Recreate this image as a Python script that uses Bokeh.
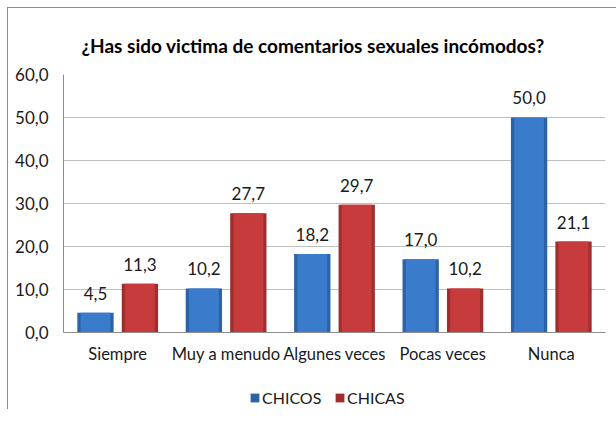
from bokeh.plotting import figure
from bokeh.models import (ColumnDataSource, FactorRange, Range1d, FixedTicker,
                          CustomJSTickFormatter, LabelSet, Legend, LegendItem)
from bokeh.core.properties import value
from bokeh.transform import dodge
from bokeh.embed import file_html
from bokeh.resources import INLINE

categories = ["Siempre", "Muy a menudo", "Algunes veces", "Pocas veces", "Nunca"]
chicos = [4.5, 10.2, 18.2, 17.0, 50.0]
chicas = [11.3, 27.7, 29.7, 10.2, 21.1]
y_ticks = [0, 10, 20, 30, 40, 50, 60]
series_names = ["CHICOS", "CHICAS"]
title_text = "¿Has sido victima de comentarios sexuales incómodos?"

FONT = "Lato"
TEXT_COLOR = "#1a1a1a"


def fmt(v):
    return f"{v:.1f}".replace(".", ",")


src = ColumnDataSource(dict(
    cat=categories,
    chicos=chicos,
    chicas=chicas,
    chicos_lbl=[fmt(v) for v in chicos],
    chicas_lbl=[fmt(v) for v in chicas],
))

# frame extends below 0 to hold the legend; value axis stays bounded to 0..60
p = figure(
    frame_width=542, frame_height=335,
    x_range=FactorRange(*categories),
    y_range=Range1d(-18, 60),
    output_backend="svg", toolbar_location=None,
    min_border_left=55, min_border_right=11,
    min_border_top=66, min_border_bottom=0,
)
p.margin = (7, 0, 0, 7)
p.styles = {"border-top": "1px solid #8c8c8c", "border-left": "1px solid #8c8c8c"}

p.title.text = title_text
p.title.text_font = FONT
p.title.text_font_style = "bold"
p.title.text_font_size = "19px"
p.title.text_color = "#000000"
p.title.align = "left"
p.title.offset = 18
p.title.standoff = 36

OFF = 0.205
W = 0.335
blue_dark, blue_main = "#2c62a6", "#3b7bcb"
red_dark, red_main = "#a12e2f", "#c73b3c"

r_boys = p.vbar(x=dodge("cat", -OFF, range=p.x_range), top="chicos", width=W,
                source=src, fill_color=blue_dark, line_color=None)
p.vbar(x=dodge("cat", -OFF, range=p.x_range), top="chicos", width=W * 0.82,
       source=src, fill_color=blue_main, line_color=None)
r_girls = p.vbar(x=dodge("cat", OFF, range=p.x_range), top="chicas", width=W,
                 source=src, fill_color=red_dark, line_color=None)
p.vbar(x=dodge("cat", OFF, range=p.x_range), top="chicas", width=W * 0.82,
       source=src, fill_color=red_main, line_color=None)

for col, off in (("chicos", -OFF), ("chicas", OFF)):
    p.add_layout(LabelSet(
        x=dodge("cat", off, range=p.x_range), y=col, text=col + "_lbl",
        source=src, text_align="center", text_baseline="alphabetic",
        y_offset=13, text_font=value(FONT), text_font_size=value("17px"),
        text_color=TEXT_COLOR))

# axes
p.yaxis.ticker = FixedTicker(ticks=y_ticks)
p.yaxis.bounds = (0, 60)
p.yaxis.formatter = CustomJSTickFormatter(
    code="return tick.toFixed(1).replace('.', ',');")
p.xaxis.fixed_location = 0
for ax in (p.xaxis, p.yaxis):
    ax.major_tick_out = 0
    ax.major_tick_in = 0
    ax.minor_tick_out = 0
    ax.minor_tick_in = 0
    ax.axis_line_color = "#8c8c8c"
    ax.major_label_text_font = FONT
    ax.major_label_text_color = TEXT_COLOR
p.yaxis.major_label_text_font_size = "17px"
p.yaxis.major_label_standoff = 15
p.xaxis.major_label_text_font_size = "16.5px"
p.xaxis.major_label_standoff = 12

p.xgrid.grid_line_color = None
p.ygrid.grid_line_color = "#bfbfbf"
p.ygrid.ticker = FixedTicker(ticks=y_ticks)
p.outline_line_color = None
p.x_range.range_padding = 0
p.x_range.factor_padding = 0

legend = Legend(
    items=[LegendItem(label=series_names[0], renderers=[r_boys]),
           LegendItem(label=series_names[1], renderers=[r_girls])],
    orientation="horizontal", location="bottom",
    glyph_width=11, glyph_height=11, label_standoff=2, spacing=0,
    label_width=72,
    padding=0, margin=2, border_line_color=None, background_fill_alpha=0,
    label_text_font=FONT, label_text_font_size="16px",
    label_text_color=TEXT_COLOR,
)
p.add_layout(legend)

open("out.html", "w").write(file_html(p, INLINE))
